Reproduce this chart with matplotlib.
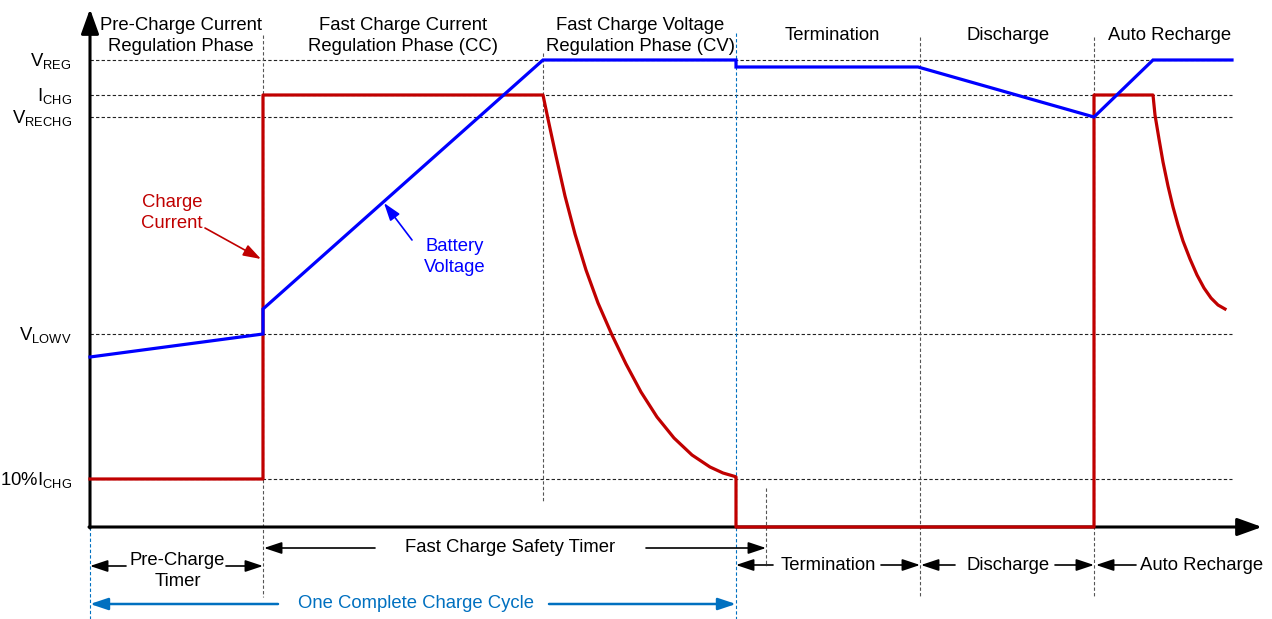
import matplotlib
matplotlib.use("Agg")
import matplotlib.pyplot as plt

plt.rcParams['font.family'] = ['Liberation Sans', 'DejaVu Sans']
plt.rcParams['mathtext.fontset'] = 'custom'
plt.rcParams['mathtext.rm'] = 'Liberation Sans'
plt.rcParams['mathtext.it'] = 'Liberation Sans'
plt.rcParams['mathtext.default'] = 'rm'

# ---------------- data ----------------
level_labels = [r'V$_{\mathrm{REG}}$', r'I$_{\mathrm{CHG}}$', r'V$_{\mathrm{RECHG}}$',
                r'V$_{\mathrm{LOWV}}$', r'10%I$_{\mathrm{CHG}}$']
level_values = [467, 432, 410, 193, 48]

phase_titles = ['Pre-Charge Current\nRegulation Phase',
                'Fast Charge Current\nRegulation Phase (CC)',
                'Fast Charge Voltage\nRegulation Phase (CV)',
                'Termination', 'Discharge', 'Auto Recharge']
phase_bounds = [0, 173, 453, 646, 830, 1004, 1142]
safety_timer_end = 676

voltage_t = [0, 173, 173, 453, 646, 646, 828, 1004, 1063, 1142]
voltage_v = [170, 193, 218, 467, 467, 460, 460, 410, 467, 467]

current_t = [0, 173, 173, 453,
             458, 466, 475, 485, 496, 508, 522, 536, 551, 567, 584, 602, 620, 633, 645,
             646, 646, 1004, 1004, 1063,
             1065, 1069, 1073, 1078, 1083, 1088, 1093, 1100, 1107, 1114, 1121, 1128, 1135]
current_i = [48, 48, 432, 432,
             408, 371, 331, 293, 257, 224, 192, 163, 135, 110, 89, 72, 60, 54, 50.5,
             50, 0, 0, 432, 432,
             412, 388, 365, 341, 320, 302, 286, 268, 252, 239, 229, 222, 218]

RED = '#C00000'
BLUE = '#0000FF'
LBLUE = '#0070C0'
FS = 13.3
LS = 1.25

fig = plt.figure(figsize=(12.72, 6.19), dpi=100)
ax = fig.add_axes([0, 0, 1, 1])
ax.set_xlim(-90, 1182)
ax.set_ylim(-92, 527)
ax.axis('off')

# horizontal reference lines + labels
for lab, v in zip(level_labels, level_values):
    ax.plot([phase_bounds[0], phase_bounds[-1]], [v, v], color='#222222', lw=0.8,
            ls=(0, (3, 2)), zorder=1)
    ax.text(-18, v - 1, lab, ha='right', va='center', fontsize=FS)

# vertical phase lines
vl = [(phase_bounds[1], 492, -70, '#555555'),
      (phase_bounds[2], 474, 25, '#555555'),
      (safety_timer_end, 39, -39, '#555555'),
      (phase_bounds[4], 490, -70, '#555555'),
      (phase_bounds[5], 490, -70, '#555555'),
      (phase_bounds[3], 494, -92, LBLUE),
      (phase_bounds[0], 0, -92, LBLUE)]
for x, y1, y2, c in vl:
    ax.plot([x, x], [y1, y2], color=c, lw=0.8, ls=(0, (3, 2)), zorder=1)

# axes arrows
axkw = dict(arrowstyle='-|>,head_length=1.25,head_width=0.45', color='black', lw=2.2,
            mutation_scale=12, shrinkA=0, shrinkB=0)
ax.annotate('', xy=(0, 518), xytext=(0, -1), arrowprops=axkw, zorder=2)
ax.annotate('', xy=(1172, 0), xytext=(-1, 0), arrowprops=axkw, zorder=2)

# signals
ax.plot(current_t, current_i, color=RED, lw=2.3, zorder=4, solid_joinstyle='round')
ax.plot(voltage_t, voltage_v, color=BLUE, lw=2.3, zorder=5, solid_joinstyle='miter')

# phase titles
title_x = [91, 313, 550, 742, 918, 1080]
for t, x in zip(phase_titles, title_x):
    y = 491 if '\n' in t else 492
    ax.text(x, y, t, ha='center', va='center', fontsize=FS, linespacing=LS)

# annotations for curves
ax.text(82, 314, 'Charge\nCurrent', color=RED, ha='center', va='center', fontsize=FS,
        linespacing=LS)
ax.annotate('', xy=(171, 268), xytext=(115, 299),
            arrowprops=dict(arrowstyle='-|>,head_length=0.9,head_width=0.3', color=RED,
                            lw=1.2, mutation_scale=12, shrinkA=0, shrinkB=0))
ax.text(365, 270, 'Battery\nVoltage', color=BLUE, ha='center', va='center', fontsize=FS,
        linespacing=LS)
ax.annotate('', xy=(294, 324), xytext=(322, 287),
            arrowprops=dict(arrowstyle='-|>,head_length=0.9,head_width=0.3', color=BLUE,
                            lw=1.2, mutation_scale=12, shrinkA=0, shrinkB=0))

# bottom timer annotations
def span(y, x0, tail0, tail1, x1, color='black', lw=1.2):
    kw = dict(arrowstyle='-|>,head_length=0.9,head_width=0.3', color=color, lw=lw,
              mutation_scale=12, shrinkA=0, shrinkB=0)
    ax.annotate('', xy=(x0, y), xytext=(tail0, y), arrowprops=kw)
    ax.annotate('', xy=(x1, y), xytext=(tail1, y), arrowprops=kw)

ax.text(87.5, -44, 'Pre-Charge\nTimer', ha='center', va='center', fontsize=FS, linespacing=LS)
span(-39, phase_bounds[0], 36, 136, phase_bounds[1])

ax.text(420, -21, 'Fast Charge Safety Timer', ha='center', va='center', fontsize=FS)
span(-21, phase_bounds[1] + 1, 285, 556, safety_timer_end)

ax.text(738, -38, 'Termination', ha='center', va='center', fontsize=FS)
span(-38, phase_bounds[3], 683, 791, phase_bounds[4])

ax.text(918, -38, 'Discharge', ha='center', va='center', fontsize=FS)
span(-38, phase_bounds[4] + 1, 865, 965, phase_bounds[5])

ax.text(1112, -38, 'Auto Recharge', ha='center', va='center', fontsize=FS)
ax.annotate('', xy=(phase_bounds[5] + 2, -38), xytext=(1046, -38),
            arrowprops=dict(arrowstyle='-|>,head_length=0.9,head_width=0.3', color='black',
                            lw=1.2, mutation_scale=12, shrinkA=0, shrinkB=0))

ax.text(326, -77, 'One Complete Charge Cycle', color=LBLUE, ha='center', va='center',
        fontsize=FS)
span(-77, phase_bounds[0], 188, 459, phase_bounds[3], color=LBLUE, lw=1.8)

fig.savefig('out.png', dpi=100)
